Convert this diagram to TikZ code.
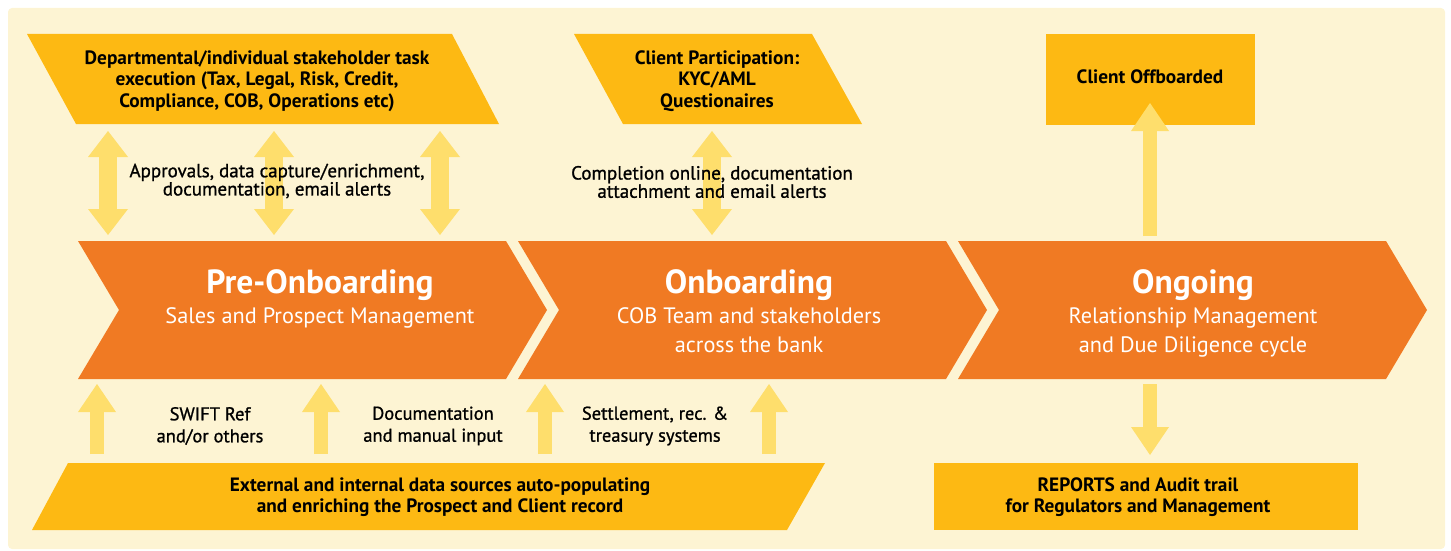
\documentclass[tikz,border=0pt]{standalone}
\usepackage{fontspec}
\setmainfont{PT Sans}
\newfontfamily\notefont[FakeBold=1]{PT Sans}
\usepackage{xcolor}
\usetikzlibrary{arrows.meta,positioning}
\definecolor{cream}{HTML}{FDF4D3}
\definecolor{boxgold}{HTML}{FDB913}
\definecolor{stageorange}{HTML}{F07A23}
\definecolor{arrowyellow}{HTML}{FEDE6C}
\def\chevsep{440}

\begin{document}
\begin{tikzpicture}[x=1pt,y=-1pt]
    \tikzstyle{stage}=[fill=stageorange]
    \tikzstyle{box}=[fill=boxgold]
    \tikzstyle{boxtext}=[align=center,inner sep=0pt,font=\fontsize{19.3}{21.5}\selectfont\bfseries]
    \tikzstyle{note}=[align=center,inner sep=0pt,font=\notefont\fontsize{19}{16.8}\selectfont]
    \tikzstyle{feed}=[align=center,inner sep=0pt,font=\notefont\fontsize{18.5}{22}\selectfont]
    \tikzstyle{title}=[inner sep=0pt,text=white,font=\fontsize{33.5}{38}\selectfont\bfseries]
    \tikzstyle{subtitle}=[align=center,inner sep=0pt,text=white,font=\fontsize{22.3}{29}\selectfont]
    \tikzstyle{fat arrow}=[draw=arrowyellow,line width=14pt,-{Triangle[width=38pt,length=28pt,line width=0pt]}]
    \tikzstyle{fat double}=[draw=arrowyellow,line width=18pt,{Triangle[width=40pt,length=26pt,line width=0pt]}-{Triangle[width=40pt,length=26pt,line width=0pt]}]

    % Background panel
    \fill[cream,rounded corners=4pt] (8,8) rectangle (1445,549);
    \useasboundingbox (0,0) rectangle (1451,551);

    % Draw the stakeholder, client and output boxes
    \fill[box] (27,34) -- (452,34) -- (499,124) -- (76,124) -- cycle;
    \fill[box] (574,34) -- (812,34) -- (862,124) -- (623,124) -- cycle;
    \fill[box] (1046,34) rectangle (1255,125);
    \fill[box] (68,463) -- (825,463) -- (787,530) -- (32,530) -- cycle;
    \fill[box] (934,463) rectangle (1358,530);

    % Draw the three stages
    \foreach \name / \n in {0,1,2}
        \fill[stage] (78+\n*\chevsep,241) -- ++(428,0) -- ++(41,69) -- ++(-41,69)
            -- ++(-428,0) -- ++(41,-69) -- cycle;

    % Two-way arrows between boxes and stages
    \foreach \name / \x in {a/108, b/274, c/440, d/712} {
        \coordinate (top-\name) at (\x,131);
        \coordinate (bot-\name) at (\x,235);
        \draw[fat double] (top-\name) -- (bot-\name);
    }

    % Data feeds into the stages
    \foreach \name / \x in {1/97, 2/321, 3/545, 4/769} {
        \coordinate (src-\name) at (\x,454);
        \coordinate (dst-\name) at (\x,384);
        \draw[fat arrow] (src-\name) -- (dst-\name);
    }

    % Ongoing stage outputs
    \coordinate (ong-up) at (1150,236);
    \coordinate (offb-in) at (1150,103);
    \coordinate (ong-down) at (1150,384);
    \coordinate (rep-in) at (1150,455);
    \draw[fat arrow] (ong-up) -- (offb-in);
    \draw[fat arrow] (ong-down) -- (rep-in);

    % Box texts
    \node[boxtext] (dept) at (257,81) {Departmental/individual stakeholder task\\execution (Tax, Legal, Risk, Credit,\\Compliance, COB, Operations etc)};
    \node[boxtext] (client) at (717,81) {Client Participation:\\KYC/AML\\Questionaires};
    \node[boxtext] (offb) at (1150,77) {Client Offboarded};
    \node[boxtext] (ext) at (440,497) {External and internal data sources auto-populating\\and enriching the Prospect and Client record};
    \node[boxtext] (rep) at (1138,497) {REPORTS and Audit trail\\for Regulators and Management};

    % Stage texts
    \node[title] (pre) at (320,285) {Pre-Onboarding};
    \node[title] (onb) at (749,285) {Onboarding};
    \node[title] (ong) at (1193,285) {Ongoing};
    \node[subtitle,below=6.5pt of pre] (pre-sub) {Sales and Prospect Management};
    \node[subtitle,below=6.5pt of onb] (onb-sub) {COB Team and stakeholders\\across the bank};
    \node[subtitle,below=6.5pt of ong] (ong-sub) {Relationship Management\\and Due Diligence cycle};

    % Arrow notes
    \node[note] (appr) at (277,181) {Approvals, data capture/enrichment,\\documentation, email alerts};
    \node[note] (compl) at (712,182) {Completion online, documentation\\attachment and email alerts};
    \node[feed] (swift) at (210,426) {SWIFT Ref\\and/or others};
    \node[feed] (docs) at (433,426) {Documentation\\and manual input};
    \node[feed] (settl) at (655,426) {Settlement, rec. \&\\treasury systems};
\end{tikzpicture}
\end{document}
